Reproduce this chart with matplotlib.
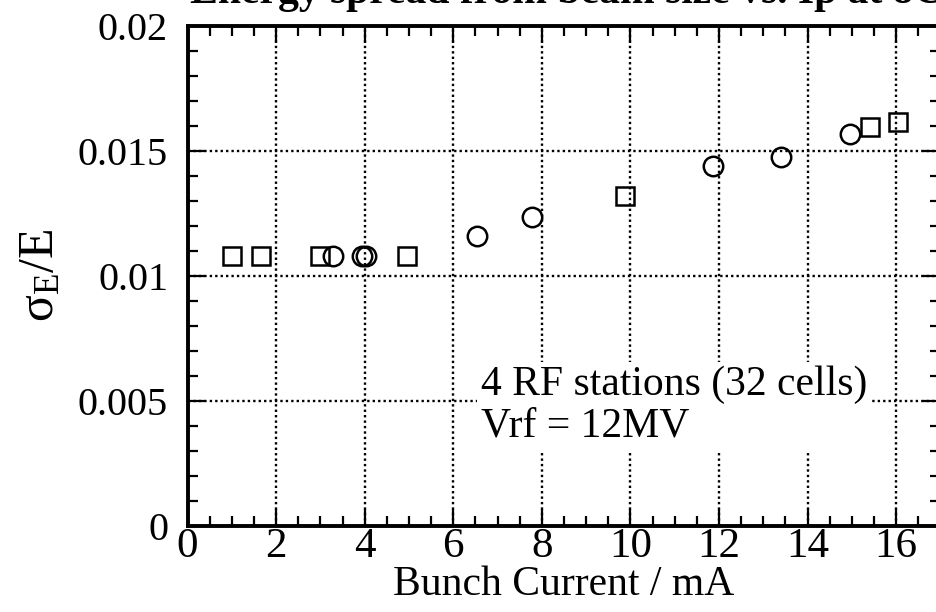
import matplotlib
matplotlib.use("Agg")
import matplotlib.pyplot as plt
from matplotlib.ticker import MultipleLocator, FixedLocator

# Data
sq_current = [1.0, 1.65, 3.0, 4.95, 9.88, 15.4, 16.05]
sq_sigma = [0.0108, 0.0108, 0.0108, 0.0108, 0.0132, 0.01595, 0.01616]
ci_current = [3.28, 3.95, 4.03, 6.53, 7.77, 11.86, 13.41, 14.95]
ci_sigma = [0.0108, 0.0108, 0.0108, 0.0116, 0.01236, 0.0144, 0.01474, 0.01567]

x_ticks = [0, 2, 4, 6, 8, 10, 12, 14, 16]
y_ticks = [0, 0.005, 0.01, 0.015, 0.02]
y_tick_labels = ["0", "0.005", "0.01", "0.015", "0.02"]

title = "Energy spread from beam size vs. Ip at 8GeV"
annotation = "4 RF stations (32 cells)\nVrf = 12MV"

plt.rcParams['font.family'] = ['Liberation Serif', 'DejaVu Serif']
plt.rcParams['mathtext.fontset'] = 'custom'
plt.rcParams['mathtext.rm'] = 'Liberation Serif'
plt.rcParams['mathtext.it'] = 'Liberation Serif:italic'
plt.rcParams['mathtext.bf'] = 'Liberation Serif:bold'

fig = plt.figure(figsize=(9.37, 6.12), dpi=100)
ax = fig.add_axes([187.5/937, 1-525.7/612, 753/937, 500/612])

ax.plot(sq_current, sq_sigma, linestyle='none', marker='s', markersize=13,
        markerfacecolor='none', markeredgecolor='black', markeredgewidth=1.8, zorder=3)
ax.plot(ci_current, ci_sigma, linestyle='none', marker='o', markersize=14,
        markerfacecolor='none', markeredgecolor='black', markeredgewidth=1.8, zorder=3)

ax.set_xlim(0, 17)
ax.set_ylim(0, 0.02)
ax.xaxis.set_major_locator(FixedLocator(x_ticks))
ax.xaxis.set_minor_locator(MultipleLocator(0.5))
ax.yaxis.set_major_locator(FixedLocator(y_ticks))
ax.set_yticklabels(y_tick_labels)
ax.yaxis.set_minor_locator(MultipleLocator(0.001))

ax.tick_params(which='both', direction='in', top=True, right=True, colors='black')
ax.tick_params(which='major', length=12, width=1.6)
ax.tick_params(which='minor', length=7, width=1.6)
ax.tick_params(axis='x', which='major', labelsize=31, pad=1)
ax.tick_params(axis='y', which='major', labelsize=29, pad=14)

for s in ax.spines.values():
    s.set_linewidth(2.8)

ax.grid(True, which='major', color='black', linestyle=(0, (1.0, 1.3)), linewidth=1.7)
ax.set_axisbelow(True)

ax.set_xlabel("Bunch Current / mA", fontsize=30, labelpad=0)
ax.set_ylabel("σ$_{\\mathrm{E}}$/E", fontsize=36, labelpad=10)

ax.text(6.62, 0.0064, annotation, fontsize=30, ha='left', va='top',
        linespacing=1.1, zorder=4,
        bbox=dict(facecolor='white', edgecolor='none', pad=3))

fig.text(190/937, 1-3/612, title, fontsize=30, fontweight='bold',
         ha='left', va='baseline')

fig.savefig("out.png", dpi=100)
